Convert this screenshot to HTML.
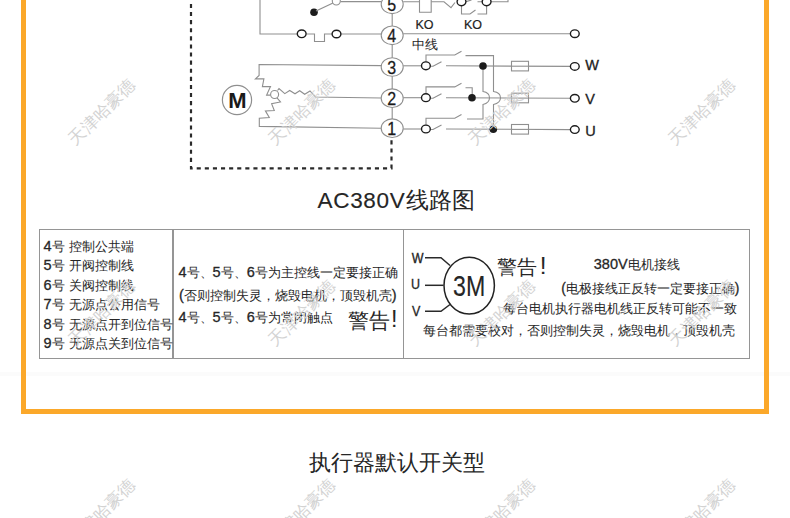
<!DOCTYPE html>
<html><head><meta charset="utf-8"><title>AC380V</title><style>
*{margin:0;padding:0;box-sizing:border-box}
html,body{width:790px;height:518px;overflow:hidden;background:#fff}
body{position:relative;font-family:"Liberation Sans",sans-serif;color:#1f1f1f}
.frame{position:absolute;left:21px;top:-20px;width:748px;height:434px;border:5px solid #fba82a}
.faint{position:absolute;left:0;top:372px;width:790px;height:4px;background:#fbfbfb}
.dg{position:absolute;left:0;top:0;font-family:"Liberation Sans",sans-serif}
.t{position:absolute;white-space:nowrap;color:#262626;-webkit-text-stroke:0.3px currentColor}
.c{font-size:var(--cs);letter-spacing:var(--ls);vertical-align:var(--cv);line-height:0;-webkit-text-stroke:var(--ck) currentColor}
.tbl{position:absolute;left:39.1px;top:229.3px;width:711px;height:129.7px;border:1.9px solid #959595}
.vd{position:absolute;top:230px;width:1.7px;height:128px;background:#959595}
.wm{position:absolute;width:100px;height:20px;line-height:20px;text-align:center;font-size:17px;color:#d3d3d3;transform:rotate(-45deg);white-space:nowrap}
html.cjk .c{font-size:var(--ca);letter-spacing:0;vertical-align:0;line-height:inherit;-webkit-text-stroke:0}
</style></head>
<body>
<div class="faint"></div>
<div class="frame"></div>
<svg class="dg" width="790" height="518" viewBox="0 0 790 518"><path d="M191,-4.2 V168.3 H391.5 V138" fill="none" stroke="#2a2a2a" stroke-width="2.2" stroke-dasharray="4.1 4"/>
<path d="M260,-2 V34 H297" fill="none" stroke="#8f8f8f" stroke-width="1.1"/>
<path d="M306.5,34 H314.5 V41.5 H324.5 V34 H332" fill="none" stroke="#8f8f8f" stroke-width="1.1"/>
<line x1="341" y1="34" x2="381.5" y2="34" stroke="#8f8f8f" stroke-width="1.1"/>
<ellipse cx="301.7" cy="33.8" rx="4.4" ry="3.8" fill="#fff" stroke="#1c1c1c" stroke-width="1.4"/>
<ellipse cx="336.5" cy="34" rx="4.4" ry="3.8" fill="#fff" stroke="#1c1c1c" stroke-width="1.4"/>
<circle cx="314" cy="12.2" r="3.8" fill="#1c1c1c"/>
<line x1="316" y1="11" x2="333" y2="3" stroke="#8f8f8f" stroke-width="1.1"/>
<circle cx="336.3" cy="1" r="4" fill="#fff" stroke="#8f8f8f" stroke-width="1.1"/>
<line x1="340.5" y1="1.6" x2="381.5" y2="1.6" stroke="#8f8f8f" stroke-width="1.1"/>
<ellipse cx="392.2" cy="4.3" rx="11" ry="9.3" fill="#fff" stroke="#8f8f8f" stroke-width="1.1"/>
<text x="391.8" y="11.3" text-anchor="middle" font-size="16" transform="translate(0 11.3) scale(1 1.13) translate(0 -11.3)" fill="#1a1a1a" stroke="#1a1a1a" stroke-width="0.25">5</text>
<ellipse cx="392.2" cy="35.3" rx="11" ry="9.3" fill="#fff" stroke="#8f8f8f" stroke-width="1.1"/>
<text x="391.8" y="42.3" text-anchor="middle" font-size="16" transform="translate(0 42.3) scale(1 1.13) translate(0 -42.3)" fill="#1a1a1a" stroke="#1a1a1a" stroke-width="0.25">4</text>
<ellipse cx="392.2" cy="67" rx="11" ry="9.3" fill="#fff" stroke="#8f8f8f" stroke-width="1.1"/>
<text x="391.8" y="74.0" text-anchor="middle" font-size="16" transform="translate(0 74.0) scale(1 1.13) translate(0 -74.0)" fill="#1a1a1a" stroke="#1a1a1a" stroke-width="0.25">3</text>
<ellipse cx="392.2" cy="98.2" rx="11" ry="9.3" fill="#fff" stroke="#8f8f8f" stroke-width="1.1"/>
<text x="391.8" y="105.2" text-anchor="middle" font-size="16" transform="translate(0 105.2) scale(1 1.13) translate(0 -105.2)" fill="#1a1a1a" stroke="#1a1a1a" stroke-width="0.25">2</text>
<ellipse cx="392.2" cy="128.2" rx="11" ry="9.3" fill="#fff" stroke="#8f8f8f" stroke-width="1.1"/>
<text x="391.8" y="135.2" text-anchor="middle" font-size="16" transform="translate(0 135.2) scale(1 1.13) translate(0 -135.2)" fill="#1a1a1a" stroke="#1a1a1a" stroke-width="0.25">1</text>
<line x1="392.2" y1="13.6" x2="392.2" y2="26" stroke="#8f8f8f" stroke-width="1.1"/>
<line x1="392.2" y1="44.6" x2="392.2" y2="57.7" stroke="#8f8f8f" stroke-width="1.1"/>
<line x1="392.2" y1="76.3" x2="392.2" y2="88.9" stroke="#8f8f8f" stroke-width="1.1"/>
<line x1="392.2" y1="107.5" x2="392.2" y2="118.9" stroke="#8f8f8f" stroke-width="1.1"/>
<path d="M403.2,1.8 H419.5 M431.2,1.8 H444 L451,7.6 L455,2.5" fill="none" stroke="#8f8f8f" stroke-width="1.1"/>
<path d="M419.5,-3 V12.2 H431.2 V-3" fill="none" stroke="#8f8f8f" stroke-width="1.1"/>
<path d="M461.5,6 V14 H470 L475.5,10 M477.5,14 H486.6 V6" fill="none" stroke="#8f8f8f" stroke-width="1.1"/>
<path d="M466,1.6 L471.5,0 M477.5,1.8 H482 M491,1.8 H508 V-3" fill="none" stroke="#8f8f8f" stroke-width="1.1"/>
<ellipse cx="461.5" cy="1.8" rx="4.4" ry="3.9" fill="#fff" stroke="#1c1c1c" stroke-width="1.4"/>
<ellipse cx="486.6" cy="1.8" rx="4.4" ry="3.9" fill="#fff" stroke="#1c1c1c" stroke-width="1.4"/>
<text x="415.5" y="28.6" font-size="12.5" fill="#222" stroke="#222" stroke-width="0.2">KO</text>
<text x="464" y="28.6" font-size="12.5" fill="#222" stroke="#222" stroke-width="0.2">KO</text>
<line x1="403.3" y1="33.7" x2="570.3" y2="33.7" stroke="#8f8f8f" stroke-width="1.1"/>
<ellipse cx="574.8" cy="33.7" rx="4.4" ry="3.8" fill="#fff" stroke="#1c1c1c" stroke-width="1.4"/>
<line x1="403.3" y1="65.8" x2="421.4" y2="65.8" stroke="#8f8f8f" stroke-width="1.1"/>
<path d="M426,61.8 V55.0 H454.8 L461.5,51.3" fill="none" stroke="#8f8f8f" stroke-width="1.1"/>
<path d="M430.4,66.3 H433 L441.5,61.8" fill="none" stroke="#8f8f8f" stroke-width="1.1"/>
<line x1="446" y1="65.8" x2="570.3" y2="66.39999999999999" stroke="#8f8f8f" stroke-width="1.1"/>
<ellipse cx="425.9" cy="65.8" rx="4.4" ry="3.9" fill="#fff" stroke="#1c1c1c" stroke-width="1.4"/>
<rect x="511.5" y="61.3" width="17" height="9.6" fill="#fff" stroke="#8f8f8f" stroke-width="1.1"/>
<line x1="511.5" y1="66.2" x2="528.5" y2="66.2" stroke="#8f8f8f" stroke-width="1.1"/>
<ellipse cx="574.8" cy="66.39999999999999" rx="4.4" ry="3.8" fill="#fff" stroke="#1c1c1c" stroke-width="1.4"/>
<text x="585.2" y="70.2" font-size="14.5" fill="#222" stroke="#222" stroke-width="0.3">W</text>
<line x1="403.3" y1="97.7" x2="421.4" y2="97.7" stroke="#8f8f8f" stroke-width="1.1"/>
<path d="M426,93.7 V86.9 H454.8 L461.5,83.2" fill="none" stroke="#8f8f8f" stroke-width="1.1"/>
<path d="M430.4,98.2 H433 L441.5,93.7" fill="none" stroke="#8f8f8f" stroke-width="1.1"/>
<line x1="446" y1="97.7" x2="570.3" y2="98.3" stroke="#8f8f8f" stroke-width="1.1"/>
<ellipse cx="425.9" cy="97.7" rx="4.4" ry="3.9" fill="#fff" stroke="#1c1c1c" stroke-width="1.4"/>
<rect x="511.5" y="93.2" width="17" height="9.6" fill="#fff" stroke="#8f8f8f" stroke-width="1.1"/>
<line x1="511.5" y1="98.10000000000001" x2="528.5" y2="98.10000000000001" stroke="#8f8f8f" stroke-width="1.1"/>
<ellipse cx="574.8" cy="98.3" rx="4.4" ry="3.8" fill="#fff" stroke="#1c1c1c" stroke-width="1.4"/>
<text x="585.2" y="103.7" font-size="14.5" fill="#222" stroke="#222" stroke-width="0.3">V</text>
<line x1="403.3" y1="129.0" x2="421.4" y2="129.0" stroke="#8f8f8f" stroke-width="1.1"/>
<path d="M426,125.0 V118.2 H454.8 L461.5,114.5" fill="none" stroke="#8f8f8f" stroke-width="1.1"/>
<path d="M430.4,129.5 H433 L441.5,125.0" fill="none" stroke="#8f8f8f" stroke-width="1.1"/>
<line x1="446" y1="129.0" x2="570.3" y2="129.6" stroke="#8f8f8f" stroke-width="1.1"/>
<ellipse cx="425.9" cy="129.0" rx="4.4" ry="3.9" fill="#fff" stroke="#1c1c1c" stroke-width="1.4"/>
<rect x="511.5" y="124.5" width="17" height="9.6" fill="#fff" stroke="#8f8f8f" stroke-width="1.1"/>
<line x1="511.5" y1="129.4" x2="528.5" y2="129.4" stroke="#8f8f8f" stroke-width="1.1"/>
<ellipse cx="574.8" cy="129.6" rx="4.4" ry="3.8" fill="#fff" stroke="#1c1c1c" stroke-width="1.4"/>
<text x="585.2" y="135.6" font-size="14.5" fill="#222" stroke="#222" stroke-width="0.3">U</text>
<path d="M465.5,55.6 H493.5 V91.5 Q500.5,92.5 500.5,97.8 Q500.5,103 493.5,104.5 V129" fill="none" stroke="#8f8f8f" stroke-width="1.1"/>
<path d="M483,66 V91.5 Q489.5,92.5 489.5,97.8 Q489.5,103 483,104.5 V119 H467" fill="none" stroke="#8f8f8f" stroke-width="1.1"/>
<path d="M465.5,87.8 H472.2 V97.8" fill="none" stroke="#8f8f8f" stroke-width="1.1"/>
<circle cx="483" cy="66" r="3.8" fill="#1c1c1c"/>
<circle cx="472" cy="97.8" r="3.8" fill="#1c1c1c"/>
<circle cx="493.3" cy="129.2" r="3.8" fill="#1c1c1c"/>
<path d="M381.3,65.6 L259.1,64.5 V75.4 L255.4,78.9 H263.9 L262.4,86.6 H270.5 L266.6,95.1 H270.6" fill="none" stroke="#8f8f8f" stroke-width="1.1"/>
<path d="M277.5,90.5 L279,88.6 L284.8,93.6 L289.7,90.5 L295,93.8 L299.7,90.7 L304.7,94.3 L310,91 L315.5,97 L381.2,98" fill="none" stroke="#8f8f8f" stroke-width="1.1"/>
<path d="M277,97.8 L280.5,102 L271.6,103.6 L274.3,110.5 L265.4,110.9 L269.3,117.5 L259.3,118.3 V126.4 L381.2,128.2" fill="none" stroke="#8f8f8f" stroke-width="1.1"/>
<circle cx="274.6" cy="94.5" r="4" fill="#fff" stroke="#8f8f8f" stroke-width="1.1"/>
<circle cx="237" cy="100" r="14.6" fill="#fff" stroke="#8f8f8f" stroke-width="1.2"/>
<text x="237.5" y="107.8" text-anchor="middle" font-size="22" font-weight="bold" fill="#1a1a1a">M</text>
<path d="M425,257.7 H441 L450,265.5" fill="none" stroke="#2a2a2a" stroke-width="1.5"/>
<path d="M425,285.3 H443.5" fill="none" stroke="#2a2a2a" stroke-width="1.5"/>
<path d="M425,311.3 H441 L450,304.5" fill="none" stroke="#2a2a2a" stroke-width="1.5"/>
<ellipse cx="469.2" cy="285.6" rx="25.2" ry="28.4" fill="none" stroke="#222" stroke-width="1.5"/></svg>
<div class="t" style="left:412.00px;top:36.67px;font-size:12.5px;line-height:16px;--ca:13px;--cs:17px;--ls:0.000px;--cv:-0.10px;--ck:0.46px;"><span class="c">中线</span></div>
<div class="t" style="left:317.50px;top:185.80px;font-size:22.5px;line-height:28px;--ca:22.8px;--cs:28px;--ls:1.100px;--cv:-1.03px;--ck:1.25px;letter-spacing:0.7px;-webkit-text-stroke:0.15px #1a1a1a">AC380V<span class="c">线路图</span></div>
<div class="tbl"></div><div class="vd" style="left:172px"></div><div class="vd" style="left:402.6px"></div>
<div class="t" style="left:43.50px;top:236.68px;font-size:14.5px;line-height:18px;--ca:12.8px;--cs:19px;--ls:-1.200px;--cv:-1.34px;--ck:0.45px;">4<span class="c">号</span> <span class="c">控制公共端</span></div>
<div class="t" style="left:43.50px;top:256.18px;font-size:14.5px;line-height:18px;--ca:12.8px;--cs:19px;--ls:-1.200px;--cv:-1.34px;--ck:0.45px;">5<span class="c">号</span> <span class="c">开阀控制线</span></div>
<div class="t" style="left:43.50px;top:275.68px;font-size:14.5px;line-height:18px;--ca:12.8px;--cs:19px;--ls:-1.200px;--cv:-1.34px;--ck:0.45px;">6<span class="c">号</span> <span class="c">关阀控制线</span></div>
<div class="t" style="left:43.50px;top:295.18px;font-size:14.5px;line-height:18px;--ca:12.8px;--cs:19px;--ls:-1.200px;--cv:-1.34px;--ck:0.45px;">7<span class="c">号</span> <span class="c">无源点公用信号</span></div>
<div class="t" style="left:43.50px;top:314.68px;font-size:14.5px;line-height:18px;--ca:12.8px;--cs:19px;--ls:-1.200px;--cv:-1.34px;--ck:0.45px;">8<span class="c">号</span> <span class="c">无源点开到位信号</span></div>
<div class="t" style="left:43.50px;top:334.18px;font-size:14.5px;line-height:18px;--ca:12.8px;--cs:19px;--ls:-1.200px;--cv:-1.34px;--ck:0.45px;">9<span class="c">号</span> <span class="c">无源点关到位信号</span></div>
<div class="t" style="left:178.50px;top:262.88px;font-size:14.5px;line-height:18px;--ca:13.07px;--cs:20px;--ls:-1.930px;--cv:-1.78px;--ck:0.46px;">4<span class="c">号、</span>5<span class="c">号、</span>6<span class="c">号为主控线一定要接正确</span></div>
<div class="t" style="left:179.00px;top:285.58px;font-size:14.5px;line-height:18px;--ca:13.07px;--cs:19px;--ls:-0.930px;--cv:-1.44px;--ck:0.46px;">(<span class="c">否则控制失灵，烧毁电机，顶毁机壳</span>)</div>
<div class="t" style="left:178.50px;top:308.28px;font-size:14.5px;line-height:18px;--ca:13.07px;--cs:19px;--ls:-0.930px;--cv:-1.34px;--ck:0.46px;">4<span class="c">号、</span>5<span class="c">号、</span>6<span class="c">号为常闭触点</span></div>
<div class="t" style="left:347.50px;top:308.17px;font-size:20px;line-height:25px;--ca:20.5px;--cs:33px;--ls:-4.500px;--cv:-1.85px;--ck:0.72px;"><span class="c">警告</span></div>
<div class="t" style="left:390.90px;top:305.03px;font-size:23.3px;line-height:29px;--ca:20px;--cs:27px;--ls:0.000px;--cv:-1.49px;--ck:0.70px;-webkit-text-stroke:0">!</div>
<div class="t" style="left:411.80px;top:251.37px;font-size:12.5px;line-height:16px;--ca:13px;--cs:17px;--ls:0.000px;--cv:-0.78px;--ck:0.46px;transform:scale(1.0,1.13);transform-origin:0 12.33px;">W</div>
<div class="t" style="left:411.00px;top:277.47px;font-size:12.5px;line-height:16px;--ca:13px;--cs:17px;--ls:0.000px;--cv:-0.78px;--ck:0.46px;transform:scale(1.0,1.13);transform-origin:0 12.33px;">U</div>
<div class="t" style="left:412.00px;top:303.97px;font-size:12.5px;line-height:16px;--ca:13px;--cs:17px;--ls:0.000px;--cv:-0.78px;--ck:0.46px;transform:scale(1.0,1.13);transform-origin:0 12.33px;">V</div>
<div class="t" style="left:452.90px;top:268.37px;font-size:28.65px;line-height:36px;--ca:20px;--cs:27px;--ls:0.000px;--cv:-1.49px;--ck:0.70px;transform:scale(0.81,1.0);transform-origin:0 27.93px;-webkit-text-stroke:0.1px #1a1a1a">3M</div>
<div class="t" style="left:496.80px;top:255.27px;font-size:20px;line-height:25px;--ca:20.2px;--cs:32px;--ls:-3.800px;--cv:-0.76px;--ck:0.71px;"><span class="c">警告</span></div>
<div class="t" style="left:539.70px;top:251.25px;font-size:24.4px;line-height:30px;--ca:20px;--cs:27px;--ls:0.000px;--cv:-1.49px;--ck:0.70px;-webkit-text-stroke:0">!</div>
<div class="t" style="left:593.80px;top:254.98px;font-size:14.5px;line-height:18px;--ca:13.26px;--cs:19px;--ls:-0.740px;--cv:-1.29px;--ck:0.46px;">380V<span class="c">电机接线</span></div>
<div class="t" style="left:561.20px;top:279.92px;font-size:13.8px;line-height:17px;--ca:13.26px;--cs:19px;--ls:-0.740px;--cv:-1.59px;--ck:0.46px;">(<span class="c">电极接线正反转一定要接正确</span>)</div>
<div class="t" style="left:502.80px;top:300.32px;font-size:13.8px;line-height:17px;--ca:13.4px;--cs:19px;--ls:-0.600px;--cv:-1.39px;--ck:0.47px;"><span class="c">每台电机执行器电机线正反转可能不一致</span></div>
<div class="t" style="left:422.60px;top:322.02px;font-size:13.8px;line-height:17px;--ca:13.35px;--cs:19px;--ls:-0.650px;--cv:-1.44px;--ck:0.47px;"><span class="c">每台都需要校对，否则控制失灵，烧毁电机，顶毁机壳</span></div>
<div class="t" style="left:309.00px;top:448.55px;font-size:21.5px;line-height:27px;--ca:21.7px;--cs:28px;--ls:0.700px;--cv:-1.38px;--ck:1.30px;"><span class="c">执行器默认开关型</span></div>
<div class="wm" style="left:51.5px;top:101.5px;--ca:17px;--cs:23px;--ls:0px;--cv:-1px;--ck:0px"><span class="c">天津哈豪德</span></div>
<div class="wm" style="left:251.5px;top:101.5px;--ca:17px;--cs:23px;--ls:0px;--cv:-1px;--ck:0px"><span class="c">天津哈豪德</span></div>
<div class="wm" style="left:451.5px;top:101.5px;--ca:17px;--cs:23px;--ls:0px;--cv:-1px;--ck:0px"><span class="c">天津哈豪德</span></div>
<div class="wm" style="left:651.5px;top:101.5px;--ca:17px;--cs:23px;--ls:0px;--cv:-1px;--ck:0px"><span class="c">天津哈豪德</span></div>
<div class="wm" style="left:51.5px;top:302.5px;--ca:17px;--cs:23px;--ls:0px;--cv:-1px;--ck:0px"><span class="c">天津哈豪德</span></div>
<div class="wm" style="left:251.5px;top:302.5px;--ca:17px;--cs:23px;--ls:0px;--cv:-1px;--ck:0px"><span class="c">天津哈豪德</span></div>
<div class="wm" style="left:451.5px;top:302.5px;--ca:17px;--cs:23px;--ls:0px;--cv:-1px;--ck:0px"><span class="c">天津哈豪德</span></div>
<div class="wm" style="left:651.5px;top:302.5px;--ca:17px;--cs:23px;--ls:0px;--cv:-1px;--ck:0px"><span class="c">天津哈豪德</span></div>
<div class="wm" style="left:51.5px;top:501.5px;--ca:17px;--cs:23px;--ls:0px;--cv:-1px;--ck:0px"><span class="c">天津哈豪德</span></div>
<div class="wm" style="left:251.5px;top:501.5px;--ca:17px;--cs:23px;--ls:0px;--cv:-1px;--ck:0px"><span class="c">天津哈豪德</span></div>
<div class="wm" style="left:451.5px;top:501.5px;--ca:17px;--cs:23px;--ls:0px;--cv:-1px;--ck:0px"><span class="c">天津哈豪德</span></div>
<div class="wm" style="left:651.5px;top:501.5px;--ca:17px;--cs:23px;--ls:0px;--cv:-1px;--ck:0px"><span class="c">天津哈豪德</span></div>
<script>
(function(){var s=document.createElement('span');s.style.cssText='position:absolute;font-size:100px;line-height:1;visibility:hidden;white-space:nowrap';s.textContent='\u4e2d\u4e2d';document.body.appendChild(s);var w=s.getBoundingClientRect().width;s.remove();if(w>180){document.documentElement.classList.add('cjk');}})();
</script>
</body></html>
